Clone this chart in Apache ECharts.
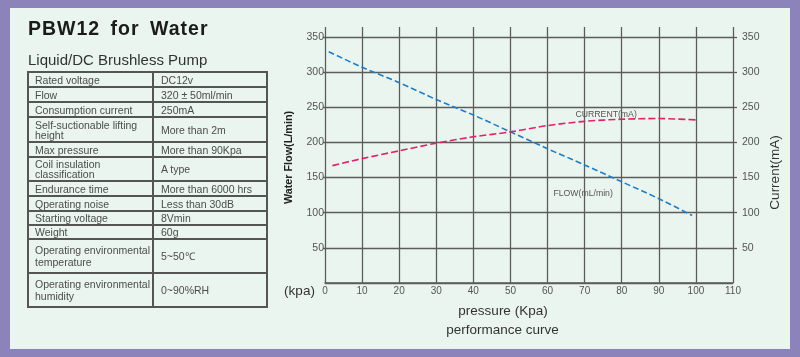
<!DOCTYPE html>
<html>
<head>
<meta charset="utf-8">
<script src="https://cdn.jsdelivr.net/npm/echarts@6/dist/echarts.min.js"></script>
<style>
  html, body { margin:0; padding:0; width:800px; height:357px; overflow:hidden; background:#8b83b9; font-family:"Liberation Sans", Arial, sans-serif; }
  #panel { position:absolute; left:10px; top:8px; width:780px; height:341px; background:#eaf5ef; }
  #title { position:absolute; left:28px; top:18.3px; font-size:19.5px; line-height:20px; font-weight:bold; color:#1b1b1b; letter-spacing:1px; word-spacing:4px; white-space:nowrap; }
  #subtitle { position:absolute; left:28px; top:52.3px; font-size:15px; line-height:15px; color:#333; white-space:nowrap; }
  #specs { position:absolute; left:0; top:0; }
  .cell { position:absolute; display:flex; align-items:center; font-size:10.5px; color:#4c4c4c; white-space:nowrap; }
  .hl { position:absolute; background:#555; }
  #chart { position:absolute; left:0; top:0; width:800px; height:357px; }
</style>
</head>
<body>
<div id="panel"></div>
<div id="chart"></div>
<div id="title">PBW12 for Water</div>
<div id="subtitle">Liquid/DC Brushless Pump</div>
<div id="specs"></div>
<script>
// ---- data ----
const specLabels = [
  "Rated voltage", "Flow", "Consumption current", "Self-suctionable lifting<br>height",
  "Max pressure", "Coil insulation<br>classification", "Endurance time", "Qperating noise",
  "Starting voltage", "Weight", "Operating environmental<br>temperature", "Operating environmental<br>humidity"
];
const specValues = [
  "DC12v", "320 ± 50ml/min", "250mA", "More than 2m", "More than 90Kpa", "A type",
  "More than 6000 hrs", "Less than 30dB", "8Vmin", "60g", "5~50℃", "0~90%RH"
];
const pressureTicks = [0, 10, 20, 30, 40, 50, 60, 70, 80, 90, 100, 110];
const flowPressure = [1, 10, 20, 30, 40, 50, 60, 70, 80, 90, 99];
const flowValues   = [329, 307, 285, 261, 239, 215, 191, 168, 144, 120, 96];
const currentPressure = [2, 10, 20, 30, 40, 50, 60, 70, 80, 90, 100];
const currentValues   = [167, 177, 188, 199, 208, 215, 224, 230, 233, 234, 232];
const currentLabel = { text: "CURRENT(mA)", at: [75.8, 240] };
const flowLabel = { text: "FLOW(mL/min)", at: [69.6, 126.6] };

// ---- table layout ----
const rowBounds = [72, 87, 102, 117, 142, 157, 181, 196, 211, 225, 239, 273, 307];
const tLeft = 28, tMid = 153, tRight = 267;
const specs = document.getElementById('specs');
function addDiv(cls, css, html) {
  const d = document.createElement('div');
  d.className = cls;
  Object.assign(d.style, css);
  if (html !== undefined) d.innerHTML = html;
  specs.appendChild(d);
}
for (let i = 0; i < specLabels.length; i++) {
  const top = rowBounds[i], h = rowBounds[i + 1] - rowBounds[i];
  const lh = (i >= 10) ? '12px' : '10px';
  addDiv('cell', { left: (tLeft + 7) + 'px', top: top + 'px', height: h + 'px', lineHeight: lh }, '<span>' + specLabels[i] + '</span>');
  addDiv('cell', { left: (tMid + 8) + 'px', top: top + 'px', height: h + 'px', lineHeight: lh }, '<span>' + specValues[i] + '</span>');
}
rowBounds.forEach((b, i) => {
  const w = (i === 0 || i === rowBounds.length - 1) ? 2 : 1.5;
  addDiv('hl', { left: (tLeft - 1) + 'px', top: (b - w / 2) + 'px', width: (tRight - tLeft + 2) + 'px', height: w + 'px' });
});
[[tLeft, 2], [tMid, 1.5], [tRight, 2]].forEach(([x, w]) => {
  addDiv('hl', { left: (x - w / 2) + 'px', top: rowBounds[0] + 'px', width: w + 'px', height: (rowBounds[rowBounds.length - 1] - rowBounds[0]) + 'px' });
});

// ---- chart ----
const chart = echarts.init(document.getElementById('chart'), null, { renderer: 'canvas' });
const FONT = 'Liberation Sans';
const gridColor = '#5c5c5c';
const gridWidth = 1.3;
const option = {
  animation: false,
  grid: [
    { left: 325, right: 67, top: 27, bottom: 74 },
    { left: 325, right: 67, top: 37, bottom: 74 }
  ],
  xAxis: [
    { gridIndex: 0, type: 'value', min: pressureTicks[0], max: pressureTicks[pressureTicks.length - 1], interval: 10,
      axisLine: { show: true, lineStyle: { color: gridColor, width: 1.5 } },
      axisTick: { show: false },
      splitLine: { show: true, lineStyle: { color: gridColor, width: gridWidth } },
      axisLabel: { color: '#555', fontSize: 10, margin: 3, fontFamily: FONT } },
    { gridIndex: 1, type: 'value', min: 0, max: 110, show: false }
  ],
  yAxis: [
    { gridIndex: 0, type: 'value', min: 0, max: 1, show: false },
    { gridIndex: 1, type: 'value', min: 0, max: 350, interval: 50, position: 'left',
      axisLine: { show: false },
      axisTick: { show: true, length: 2, lineStyle: { color: gridColor, width: gridWidth } },
      splitLine: { show: true, lineStyle: { color: gridColor, width: gridWidth } },
      axisLabel: { showMinLabel: false, color: '#555', fontSize: 10.5, margin: 1, fontFamily: FONT } },
    { gridIndex: 1, type: 'value', min: 0, max: 350, interval: 50, position: 'right',
      axisLine: { show: false },
      axisTick: { show: true, length: 4, lineStyle: { color: gridColor, width: gridWidth } },
      splitLine: { show: false },
      axisLabel: { showMinLabel: false, color: '#555', fontSize: 10.5, margin: 9, fontFamily: FONT } }
  ],
  series: [
    { name: 'FLOW', type: 'line', xAxisIndex: 1, yAxisIndex: 1,
      data: flowPressure.map((p, i) => [p, flowValues[i]]),
      smooth: 0.3, showSymbol: false, symbol: 'none',
      lineStyle: { color: '#1f7dc6', width: 1.6, type: [6, 3] },
      markPoint: { symbol: 'rect', symbolSize: [1, 1], itemStyle: { color: 'transparent' },
        label: { show: true, position: 'inside', formatter: flowLabel.text, color: '#555', fontSize: 8.7, fontFamily: FONT },
        data: [{ coord: flowLabel.at }] } },
    { name: 'CURRENT', type: 'line', xAxisIndex: 1, yAxisIndex: 2,
      data: currentPressure.map((p, i) => [p, currentValues[i]]),
      smooth: 0.3, showSymbol: false, symbol: 'none',
      lineStyle: { color: '#e0226c', width: 1.6, type: [7, 3] },
      markPoint: { symbol: 'rect', symbolSize: [1, 1], itemStyle: { color: 'transparent' },
        label: { show: true, position: 'inside', formatter: currentLabel.text, color: '#555', fontSize: 8.7, fontFamily: FONT },
        data: [{ coord: currentLabel.at }] } }
  ],
  graphic: [
    { type: 'text', x: 289.3, y: 157.5, rotation: Math.PI / 2,
      style: { text: 'Water Flow(L/min)', font: 'bold 10.8px "Liberation Sans"', fill: '#222', align: 'center', verticalAlign: 'middle' } },
    { type: 'text', x: 775, y: 172.5, rotation: Math.PI / 2,
      style: { text: 'Current(mA)', font: '13.5px "Liberation Sans"', fill: '#333', align: 'center', verticalAlign: 'middle' } },
    { type: 'text', x: 299.5, y: 291,
      style: { text: '(kpa)', font: '13.5px "Liberation Sans"', fill: '#333', align: 'center', verticalAlign: 'middle' } },
    { type: 'text', x: 503, y: 311,
      style: { text: 'pressure (Kpa)', font: '13.5px "Liberation Sans"', fill: '#333', align: 'center', verticalAlign: 'middle' } },
    { type: 'text', x: 502.5, y: 330,
      style: { text: 'performance curve', font: '13.5px "Liberation Sans"', fill: '#333', align: 'center', verticalAlign: 'middle' } }
  ]
};
chart.setOption(option);
</script>
</body>
</html>
